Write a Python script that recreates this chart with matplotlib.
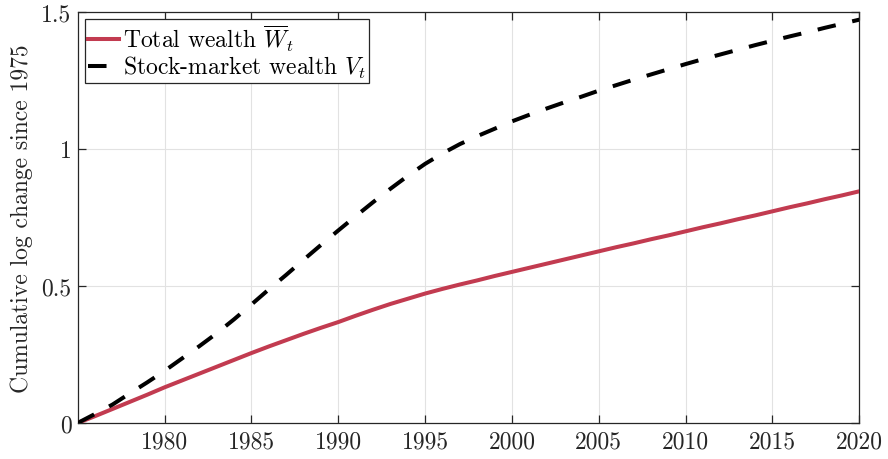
import numpy as np
import matplotlib
matplotlib.use("Agg")
import matplotlib.pyplot as plt

years = list(range(1975, 2021))
total_wealth = [0.0, 0.025, 0.051, 0.077, 0.103, 0.13, 0.155, 0.18, 0.205, 0.23,
                0.255, 0.279, 0.302, 0.325, 0.347, 0.368, 0.391, 0.413, 0.434, 0.453,
                0.472, 0.489, 0.505, 0.52, 0.536, 0.551, 0.566, 0.581, 0.596, 0.611,
                0.626, 0.641, 0.655, 0.67, 0.684, 0.699, 0.714, 0.728, 0.743, 0.757,
                0.772, 0.787, 0.801, 0.816, 0.83, 0.845]
stock_wealth = [0.0, 0.033, 0.067, 0.108, 0.148, 0.19, 0.235, 0.28, 0.327, 0.378,
                0.432, 0.487, 0.54, 0.595, 0.649, 0.702, 0.754, 0.805, 0.854, 0.901,
                0.945, 0.983, 1.017, 1.046, 1.073, 1.10, 1.124, 1.147, 1.169, 1.19,
                1.212, 1.232, 1.252, 1.271, 1.29, 1.309, 1.327, 1.344, 1.361, 1.378,
                1.394, 1.41, 1.425, 1.441, 1.456, 1.471]
xticks = [1980, 1985, 1990, 1995, 2000, 2005, 2010, 2015, 2020]
yticks = [0, 0.5, 1, 1.5]
ytick_labels = ['0', '0.5', '1', '1.5']
labels = [r'Total wealth $\overline{W}_t$', r'Stock-market wealth $V_t$']
ylabel = 'Cumulative log change since 1975'

plt.rcParams['font.family'] = 'serif'
plt.rcParams['font.serif'] = ['cmr10']
plt.rcParams['mathtext.fontset'] = 'cm'
plt.rcParams['axes.formatter.use_mathtext'] = True

fig = plt.figure(figsize=(8.88, 4.6), dpi=100)
ax = fig.add_axes([0.0875, 0.0783, 0.8802, 0.8941])

ax.plot(years, total_wealth, color='#C23B50', lw=2.9, label=labels[0], zorder=3)
l2, = ax.plot(years, stock_wealth, color='black', lw=2.9, label=labels[1], zorder=3)
l2.set_dashes([4.6, 4.2])
l2.set_dash_capstyle('butt')

ax.set_xlim(1975, 2020)
ax.set_ylim(0, 1.5)
ax.set_xticks(xticks)
ax.set_xticklabels([str(x) for x in xticks])
ax.set_yticks(yticks)
ax.set_yticklabels(ytick_labels)
ax.grid(True, color='#E2E2E2', lw=0.8)
ax.set_axisbelow(True)

edge = '#262626'
for s in ax.spines.values():
    s.set_color(edge)
    s.set_linewidth(0.9)
ax.tick_params(direction='in', top=True, right=True, length=5.5, width=0.9,
               color=edge, labelcolor=edge, labelsize=17)
ax.tick_params(axis='x', pad=5)
ax.tick_params(axis='y', pad=4.5)
ax.set_ylabel(ylabel, fontsize=17, color=edge, labelpad=6)

leg = ax.legend(loc='upper left', fontsize=17, handlelength=1.3, handletextpad=0.17,
                borderpad=0.12, labelspacing=0.05, fancybox=False, framealpha=1,
                edgecolor=edge, borderaxespad=0.33)
leg.get_frame().set_linewidth(0.9)

fig.savefig('out.png', dpi=100)
